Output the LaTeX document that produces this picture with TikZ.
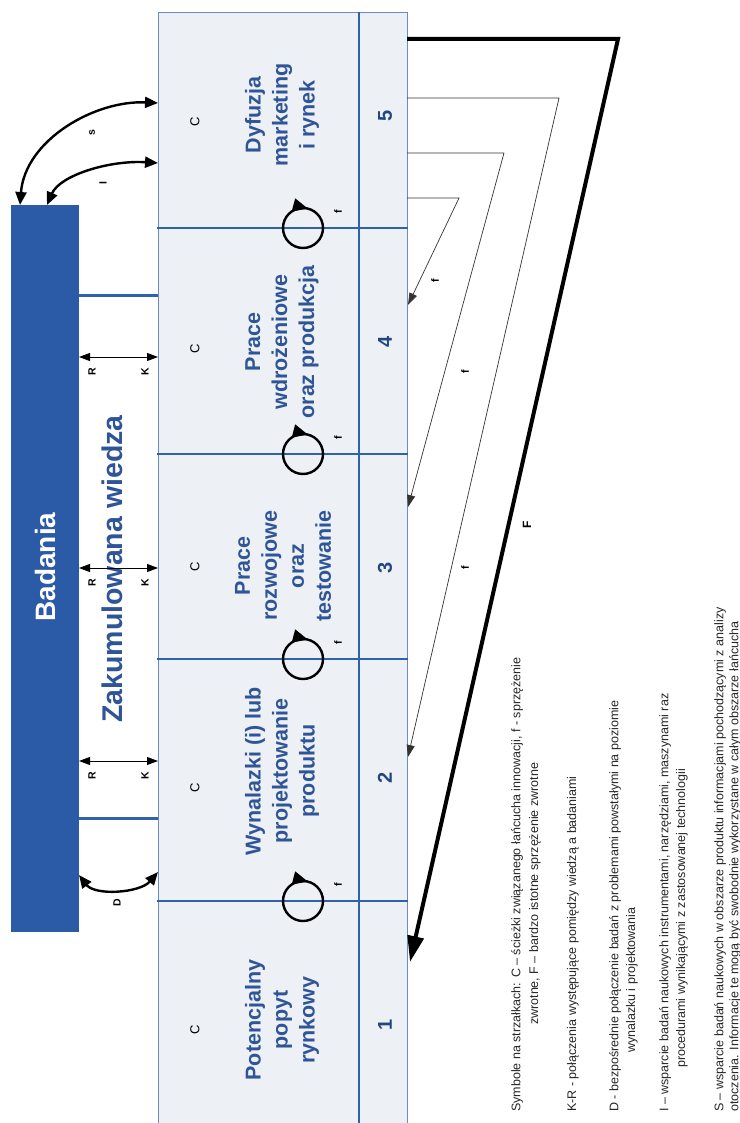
\documentclass[tikz,border=0pt]{standalone}
\usepackage{fontspec}
\setmainfont{Liberation Sans}
\usetikzlibrary{arrows.meta,decorations.markings}
\definecolor{barblue}{HTML}{2B5BA7}
\definecolor{txtblue}{HTML}{2F5597}
\definecolor{numblue}{HTML}{22467F}
\definecolor{cellfill}{HTML}{EDF0F5}
\definecolor{cellline}{HTML}{6A8CC4}
\definecolor{divblue}{HTML}{2F62A8}
\begin{document}
\begin{tikzpicture}[x=1pt,y=-1pt,
  cellborder/.style={draw=cellline, line width=0.8pt},
  divider/.style={draw=divblue, line width=1.8pt},
  link/.style={draw=divblue, line width=3pt},
  stage/.style={rotate=90, align=center, text=txtblue, inner sep=0,
    font=\bfseries\fontsize{21.5}{27}\selectfont},
  stagenum/.style={rotate=90, text=numblue, inner sep=0,
    font=\bfseries\fontsize{20}{24}\selectfont},
  clabel/.style={rotate=90, inner sep=0, font=\fontsize{13}{15}\selectfont},
  tinylabel/.style={rotate=90, inner sep=0, font=\bfseries\fontsize{10.5}{12}\selectfont},
  legendline/.style={rotate=90, anchor=west, inner sep=0, text=black!85,
    font=\fontsize{12.5}{15}\selectfont},
  rk/.style={line width=0.8pt, {Triangle[length=11pt,width=8pt]}-{Triangle[length=11pt,width=8pt]}},
  curvelink/.style={line width=2.4pt, {Triangle[length=13pt,width=11pt]}-{Triangle[length=13pt,width=11pt]}},
  thinfb/.style={line width=0.7pt, draw=black!80, -{Triangle[length=12pt,width=8pt]}},
  thickfb/.style={line width=4pt, line join=miter, -{Triangle[length=26pt,width=16pt]}},
  loopmark/.style={line width=2.4pt, postaction={decorate},
    decoration={markings, mark=at position 0.21 with {\arrowreversed{Triangle[length=15pt,width=13pt]}}}}
]
\useasboundingbox (0,0) rectangle (739,1123);

% stage columns
\fill[cellfill] (158,12) rectangle (407,1123);
\draw[cellborder] (158,1123) -- (158,12) -- (407,12) -- (407,1123);
\draw[divider] (359,12) -- (359,1123);
\foreach \yy in {228,454,659,901} \draw[divider] (157,\yy) -- (408,\yy);

% research bar and accumulated knowledge
\node[fill=barblue, minimum width=68pt, minimum height=727pt, inner sep=0] (bar) at (45,568.5) {};
\node[rotate=90, text=white, inner sep=0, font=\bfseries\fontsize{28}{32}\selectfont] (badania) at (45,567) {Badania};
\node[rotate=90, text=txtblue, inner sep=0, font=\bfseries\fontsize{28.5}{32}\selectfont] (wiedza) at (112,569) {Zakumulowana wiedza};

\coordinate (la1) at (79,295);  \coordinate (lb1) at (158,295);
\coordinate (la2) at (79,818);  \coordinate (lb2) at (158,818);
\draw[link] (la1) -- (lb1);
\draw[link] (la2) -- (lb2);

% K-R links
\foreach \i/\yy in {1/357,2/568,3/761}{
  \coordinate (r\i) at (79,\yy);
  \coordinate (k\i) at (158,\yy);
  \draw[rk] (r\i) -- (k\i);
  \node[tinylabel] (rl\i) at (92,\yy+15) {R};
  \node[tinylabel] (kl\i) at (145,\yy+15) {K};
}

% stages
\node[stage] (st5) at (282,115) {Dyfuzja\\marketing\\i rynek};
\node[stage] (st4) at (282,342) {Prace\\wdrożeniowe\\oraz produkcja};
\node[stage] (st3) at (283,566) {Prace\\rozwojowe\\oraz\\testowanie};
\node[stage] (st2) at (282,771) {Wynalazki (i) lub\\projektowanie\\produktu};
\node[stage] (st1) at (282,1020) {Potencjalny\\popyt\\rynkowy};

\foreach \i/\yy in {5/122,4/349,3/567,2/788,1/1030}
  \node[clabel] (c\i) at (195,\yy) {C};
\foreach \i/\yy in {5/116,4/342,3/568,2/778,1/1025}
  \node[stagenum] (n\i) at (385,\yy) {\i};

% feedback loops between neighbouring stages
\foreach \i/\yy in {1/228,2/454,3/659,4/901}{
  \coordinate (loop\i) at (303,\yy);
  \draw[loopmark] (loop\i) circle[radius=20pt];
  \node[tinylabel] (lf\i) at (338,\yy-16) {f};
}

% feedback paths from the market
\coordinate (F0) at (407,39);  \coordinate (F1) at (618,39);  \coordinate (F2) at (410,962);
\coordinate (fa0) at (407,98);  \coordinate (fa1) at (559,98);  \coordinate (fa2) at (408,757);
\coordinate (fb0) at (407,153); \coordinate (fb1) at (504,153); \coordinate (fb2) at (408,507);
\coordinate (fc0) at (407,198); \coordinate (fc1) at (459,198); \coordinate (fc2) at (408,305);
\draw[thickfb] (F0) -- (F1) -- (F2);
\draw[thinfb] (fa0) -- (fa1) -- (fa2);
\draw[thinfb] (fb0) -- (fb1) -- (fb2);
\draw[thinfb] (fc0) -- (fc1) -- (fc2);
\node[tinylabel] (ffc) at (435,281) {f};
\node[tinylabel] (ffb) at (465,372) {f};
\node[tinylabel] (ffa) at (465,568) {f};
\node[tinylabel, font=\bfseries\fontsize{12}{14}\selectfont] (ffF) at (527,525) {F};

% research support links
\coordinate (sA) at (158,103); \coordinate (sB) at (20,205);
\coordinate (iA) at (158,163); \coordinate (iB) at (47,205);
\coordinate (dA) at (79,875);  \coordinate (dB) at (158,872);
\draw[curvelink] (sB) .. controls (25,140) and (95,100) .. (sA);
\draw[curvelink] (iB) .. controls (60,175) and (110,160) .. (iA);
\draw[curvelink] (dA) .. controls (95,896) and (140,893) .. (dB);
\node[tinylabel] (ls) at (92,133) {s};
\node[tinylabel] (li) at (103,183) {I};
\node[tinylabel] (ld) at (117,903) {D};

% legend
\node[legendline] (lg1) at (517,1112) {Symbole na strzałkach: C – ścieżki związanego łańcucha innowacji, f - sprzężenie};
\node[legendline] (lg2) at (535,1025) {zwrotne, F – bardzo istotne sprzężenie zwrotne};
\node[legendline] (lg3) at (573,1112) {K-R - połączenia występujące pomiędzy wiedzą a badaniami};
\node[legendline] (lg4) at (615,1112) {D - bezpośrednie połączenie badań z problemami powstałymi na poziomie};
\node[legendline] (lg5) at (632,1053) {wynalazku i projektowania};
\node[legendline] (lg6) at (665,1112) {I – wsparcie badań naukowych instrumentami, narzędziami, maszynami raz};
\node[legendline] (lg7) at (682,1068) {procedurami wynikającymi z zastosowanej technologii};
\node[legendline] (lg8) at (720,1112) {S – wsparcie badań naukowych w obszarze produktu informacjami pochodzącymi z analizy};
\node[legendline] (lg9) at (735,1112) {otoczenia. Informacje te mogą być swobodnie wykorzystane w całym obszarze łańcucha};
\end{tikzpicture}
\end{document}
